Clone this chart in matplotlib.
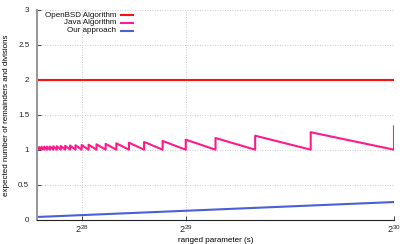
import matplotlib
matplotlib.use('Agg')
import matplotlib.pyplot as plt
from matplotlib.lines import Line2D

plt.rcParams['font.family'] = ['Liberation Sans', 'DejaVu Sans']
plt.rcParams['mathtext.fontset'] = 'custom'
plt.rcParams['mathtext.rm'] = 'Liberation Sans'
plt.rcParams['mathtext.it'] = 'Liberation Sans:italic'

# ranged parameter s (in millions) where the Java curve jumps up, and the jump height
java_jump_s = [153.39, 159.07, 165.19, 171.80, 178.96, 186.74, 195.23, 204.52,
               214.75, 226.05, 238.61, 252.65, 268.44, 286.33, 306.78, 330.38,
               357.91, 390.45, 429.50, 477.22, 536.87, 613.57, 715.83, 858.99,
               1073.74]
java_peak = [1.037, 1.038, 1.040, 1.042, 1.043, 1.045, 1.048, 1.050,
             1.053, 1.056, 1.059, 1.063, 1.067, 1.071, 1.077, 1.083,
             1.091, 1.100, 1.111, 1.125, 1.143, 1.167, 1.200, 1.250,
             1.333]
java_floor = 1.0

openbsd_s = [153.39, 1073.74]
openbsd_val = [2.0, 2.0]

ours_s = [153.39, 1073.74]
ours_val = [0.036, 0.25]

x_ticks = [2**28, 2**29, 2**30]
x_tick_labels = ['$2^{28}$', '$2^{29}$', '$2^{30}$']
y_ticks = [0, 0.5, 1, 1.5, 2, 2.5, 3]
y_tick_labels = ['0', '0.5', '1', '1.5', '2', '2.5', '3']

c_bsd = '#ff1010'
c_java = '#ff1a8c'
c_ours = '#4b5fd6'

fs = 5.8


def java_path():
    xs, ys = [], []
    for i, (s, p) in enumerate(zip(java_jump_s, java_peak)):
        xs += [s * 1e6, s * 1e6]
        ys += [java_floor, p]
        if i + 1 < len(java_jump_s):
            xs.append(java_jump_s[i + 1] * 1e6)
            ys.append(java_floor)
    return xs[1:], ys[1:]


fig = plt.figure(figsize=(4.07, 2.44), dpi=100)
ax = fig.add_axes([37 / 407, 1 - 219.5 / 244, 357 / 407, 209.5 / 244])

ax.plot([s * 1e6 for s in openbsd_s], openbsd_val, color=c_bsd, lw=1.5)
jx, jy = java_path()
ax.plot(jx, jy, color=c_java, lw=1.5)
ax.plot([s * 1e6 for s in ours_s], ours_val, color=c_ours, lw=1.5)

ax.set_xlim(java_jump_s[0] * 1e6, java_jump_s[-1] * 1e6)
ax.set_ylim(0, 3)
ax.set_xticks(x_ticks)
ax.set_xticklabels(x_tick_labels)
ax.set_yticks(y_ticks)
ax.set_yticklabels(y_tick_labels)
ax.tick_params(direction='in', length=3, labelsize=fs, width=0.6, colors='#222222')
ax.tick_params(axis='x', pad=2.5, labelsize=6.6)
ax.tick_params(axis='y', pad=5.5)
ax.grid(True, color='#bbbbbb', linestyle=(0, (1, 2)), lw=0.6)

for side in ['top', 'right']:
    ax.spines[side].set_visible(False)
ax.spines['left'].set_color('#999999')
ax.spines['left'].set_linewidth(1.5)
ax.spines['bottom'].set_color('#222222')
ax.spines['bottom'].set_linewidth(0.8)

ax.set_xlabel('ranged parameter (s)', fontsize=fs, labelpad=1.5)
ax.set_ylabel('expected number of remainders and divisions', fontsize=fs, labelpad=6)

# legend: labels right-aligned, line samples on the right
names = ['OpenBSD Algorithm', 'Java Algorithm', 'Our approach']
cols = [c_bsd, c_java, c_ours]
rows = [0.976, 0.938, 0.900]
for name, col, yy in zip(names, cols, rows):
    ax.text(0.221, yy, name, transform=ax.transAxes, ha='right', va='center',
            fontsize=fs, color='#111111')
    ax.add_line(Line2D([0.235, 0.269], [yy, yy], transform=ax.transAxes,
                       color=col, lw=1.5))

fig.savefig('out.png', dpi=100)
